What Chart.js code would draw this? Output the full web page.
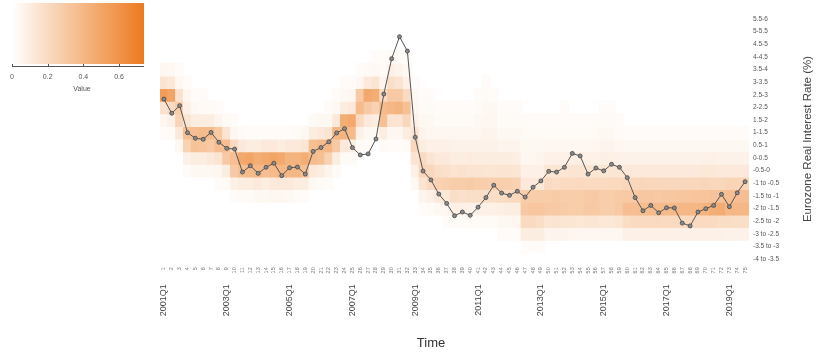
<!DOCTYPE html>
<html>
<head>
<meta charset="utf-8">
<script src="https://cdn.jsdelivr.net/npm/chart.js@4/dist/chart.umd.min.js"></script>
<style>
  html, body { margin: 0; padding: 0; background: #fff; }
  #wrap { width: 817px; height: 356px; position: relative; }
</style>
</head>
<body>
<div id="wrap"><canvas id="chart" width="817" height="356"></canvas></div>
<script>
// Quarter index shown under each column
const quarterNumbers = ["1","2","3","4","5","6","7","8","9","10","11","12","13","14","15","16","17","18","19","20",
  "21","22","23","24","25","26","27","28","29","30","31","32","33","34","35","36","37","38","39","40",
  "41","42","43","44","45","46","47","48","49","50","51","52","53","54","55","56","57","58","59","60",
  "61","62","63","64","65","66","67","68","69","70","71","72","73","74","75"];

// Period labels, one every eight quarters starting at quarter 1
const periodLabels = ["2001Q1","2003Q1","2005Q1","2007Q1","2009Q1","2011Q1","2013Q1","2015Q1","2017Q1","2019Q1"];
const periodStep = 8;

// Interest-rate bins, top to bottom, and their lower bounds (%)
const rateBins = ["5.5-6","5-5.5","4.5-5","4-4.5","3.5-4","3-3.5","2.5-3","2-2.5","1.5-2","1-1.5",
  "0.5-1","0-0.5","-0.5-0","-1 to -0.5","-1.5 to -1","-2 to -1.5","-2.5 to -2","-3 to -2.5","-3.5 to -3","-4 to -3.5"];
const binLower = [5.5,5,4.5,4,3.5,3,2.5,2,1.5,1,0.5,0,-0.5,-1,-1.5,-2,-2.5,-3,-3.5,-4];
const binWidth = 0.5;

// Realised Eurozone real interest rate (%) per quarter
const realRate = [2.58,2.02,2.32,1.25,1.03,0.99,1.26,0.87,0.63,0.60,
  -0.31,-0.06,-0.36,-0.12,0.04,-0.45,-0.14,-0.11,-0.39,0.51,
  0.66,0.89,1.24,1.41,0.66,0.37,0.41,1.00,2.78,4.18,
  5.05,4.48,1.07,-0.27,-0.62,-1.18,-1.55,-2.04,-1.89,-2.02,
  -1.70,-1.32,-0.83,-1.14,-1.23,-1.07,-1.30,-0.91,-0.66,-0.28,
  -0.31,-0.12,0.43,0.33,-0.39,-0.15,-0.26,0.00,-0.12,-0.53,
  -1.32,-1.84,-1.63,-1.92,-1.72,-1.73,-2.33,-2.44,-1.89,-1.76,
  -1.63,-1.19,-1.68,-1.13,-0.69];

// Share of outcomes in each bin (same order as rateBins), one row per quarter
const shareByQuarter = [
  [0,0,0,0,.05,.15,.55,.16,.05,.02,0,0,0,0,0,0,0,0,0,0],
  [0,0,0,0,.04,.13,.50,.20,.08,.03,0,0,0,0,0,0,0,0,0,0],
  [0,0,0,0,.02,.05,.16,.28,.24,.12,.04,0,0,0,0,0,0,0,0,0],
  [0,0,0,0,0,.02,.05,.08,.15,.35,.25,.08,.02,0,0,0,0,0,0,0],
  [0,0,0,0,0,0,.02,.04,.10,.36,.34,.10,.04,0,0,0,0,0,0,0],
  [0,0,0,0,0,0,.02,.03,.10,.38,.33,.10,.04,0,0,0,0,0,0,0],
  [0,0,0,0,0,0,0,.03,.10,.38,.30,.12,.04,0,0,0,0,0,0,0],
  [0,0,0,0,0,0,0,.02,.06,.30,.36,.15,.05,.02,0,0,0,0,0,0],
  [0,0,0,0,0,0,0,0,.03,.15,.36,.30,.10,.03,0,0,0,0,0,0],
  [0,0,0,0,0,0,0,0,.02,.05,.20,.36,.30,.08,.02,0,0,0,0,0],
  [0,0,0,0,0,0,0,0,0,.03,.12,.48,.35,.10,.03,0,0,0,0,0],
  [0,0,0,0,0,0,0,0,0,.02,.10,.50,.38,.10,.03,0,0,0,0,0],
  [0,0,0,0,0,0,0,0,0,.02,.10,.45,.40,.12,.04,0,0,0,0,0],
  [0,0,0,0,0,0,0,0,0,.02,.12,.48,.36,.10,.04,0,0,0,0,0],
  [0,0,0,0,0,0,0,0,0,.02,.12,.50,.38,.12,.05,0,0,0,0,0],
  [0,0,0,0,0,0,0,0,0,.02,.10,.48,.40,.12,.05,0,0,0,0,0],
  [0,0,0,0,0,0,0,0,0,.02,.12,.42,.40,.12,.04,0,0,0,0,0],
  [0,0,0,0,0,0,0,0,0,.03,.12,.42,.40,.10,.03,0,0,0,0,0],
  [0,0,0,0,0,0,0,0,0,.04,.14,.45,.35,.10,.02,0,0,0,0,0],
  [0,0,0,0,0,0,0,0,.03,.10,.35,.38,.12,.04,0,0,0,0,0,0],
  [0,0,0,0,0,0,0,0,.04,.12,.38,.35,.10,.03,0,0,0,0,0,0],
  [0,0,0,0,0,0,0,.02,.04,.15,.40,.25,.06,.02,0,0,0,0,0,0],
  [0,0,0,0,0,0,.02,.04,.12,.40,.30,.10,.03,0,0,0,0,0,0,0],
  [0,0,0,0,0,.02,.04,.10,.45,.42,.12,.03,0,0,0,0,0,0,0,0],
  [0,0,0,0,0,.02,.05,.12,.48,.38,.10,.03,0,0,0,0,0,0,0,0],
  [0,0,0,0,.02,.05,.30,.38,.20,.08,.03,0,0,0,0,0,0,0,0,0],
  [0,0,0,0,.03,.12,.48,.30,.12,.04,.02,0,0,0,0,0,0,0,0,0],
  [0,0,0,.02,.04,.15,.45,.25,.10,.04,0,0,0,0,0,0,0,0,0,0],
  [0,0,0,.02,.03,.06,.20,.38,.35,.10,.03,0,0,0,0,0,0,0,0,0],
  [0,0,0,.03,.08,.18,.30,.40,.15,.05,.02,0,0,0,0,0,0,0,0,0],
  [0,0,0,.03,.06,.15,.30,.42,.15,.05,.02,0,0,0,0,0,0,0,0,0],
  [0,0,0,.02,.04,.08,.20,.35,.22,.10,.03,0,0,0,0,0,0,0,0,0],
  [0,0,0,0,0,.02,.04,.05,.08,.15,.22,.15,.08,.04,0,0,0,0,0,0],
  [0,0,0,0,0,0,.02,.03,.04,.06,.10,.20,.22,.15,.06,.02,0,0,0,0],
  [0,0,0,0,0,0,.02,.03,.04,.05,.08,.15,.22,.20,.08,.03,0,0,0,0],
  [0,0,0,0,0,0,0,.02,.03,.05,.08,.12,.18,.25,.12,.04,0,0,0,0],
  [0,0,0,0,0,0,0,.02,.03,.05,.08,.12,.17,.26,.13,.05,.02,0,0,0],
  [0,0,0,0,0,0,0,.02,.03,.05,.07,.10,.15,.28,.18,.08,.03,0,0,0],
  [0,0,0,0,0,0,0,.02,.03,.05,.07,.10,.16,.28,.17,.08,.03,0,0,0],
  [0,0,0,0,0,0,0,.02,.03,.05,.07,.11,.15,.29,.18,.07,.03,0,0,0],
  [0,0,0,0,0,0,.02,.03,.04,.05,.07,.10,.15,.28,.18,.08,.03,0,0,0],
  [0,0,0,0,0,.02,.03,.04,.05,.06,.07,.10,.14,.27,.18,.08,.03,0,0,0],
  [0,0,0,0,0,0,.02,.04,.05,.06,.07,.10,.14,.26,.18,.08,.03,0,0,0],
  [0,0,0,0,0,0,0,.02,.03,.04,.06,.10,.15,.27,.19,.09,.04,.02,0,0],
  [0,0,0,0,0,0,0,.02,.03,.04,.06,.10,.15,.26,.20,.10,.04,.02,0,0],
  [0,0,0,0,0,0,0,.02,.03,.04,.06,.09,.14,.25,.21,.10,.05,.02,0,0],
  [0,0,0,0,0,0,0,0,.02,.03,.04,.05,.08,.12,.28,.30,.20,.10,.02,0],
  [0,0,0,0,0,0,0,0,.02,.03,.04,.05,.08,.12,.28,.32,.20,.10,.02,0],
  [0,0,0,0,0,0,0,0,.02,.03,.04,.06,.08,.13,.28,.32,.18,.10,.02,0],
  [0,0,0,0,0,0,0,0,.02,.03,.05,.08,.14,.20,.28,.30,.14,.06,0,0],
  [0,0,0,0,0,0,0,0,.02,.03,.05,.08,.14,.19,.29,.30,.15,.06,0,0],
  [0,0,0,0,0,0,0,.02,.02,.03,.05,.08,.14,.20,.28,.29,.14,.06,0,0],
  [0,0,0,0,0,0,0,0,.02,.03,.05,.09,.15,.20,.28,.28,.14,.05,0,0],
  [0,0,0,0,0,0,0,0,.02,.03,.05,.09,.15,.21,.28,.28,.13,.05,0,0],
  [0,0,0,0,0,0,0,0,.02,.03,.05,.08,.14,.20,.29,.30,.14,.05,0,0],
  [0,0,0,0,0,0,0,0,.02,.03,.05,.08,.14,.20,.30,.30,.14,.05,0,0],
  [0,0,0,0,0,0,0,.02,.03,.04,.06,.09,.14,.20,.28,.28,.13,.05,0,0],
  [0,0,0,0,0,0,0,.02,.03,.04,.06,.09,.14,.21,.28,.28,.13,.05,0,0],
  [0,0,0,0,0,0,0,0,.02,.03,.05,.08,.14,.21,.29,.30,.14,.05,0,0],
  [0,0,0,0,0,0,0,0,0,.02,.04,.07,.12,.22,.30,.36,.19,.08,0,0],
  [0,0,0,0,0,0,0,0,0,.02,.04,.07,.12,.22,.30,.36,.20,.08,0,0],
  [0,0,0,0,0,0,0,0,0,.02,.04,.07,.12,.23,.31,.37,.20,.08,0,0],
  [0,0,0,0,0,0,0,0,0,.02,.04,.07,.12,.22,.31,.38,.20,.08,0,0],
  [0,0,0,0,0,0,0,0,0,.02,.04,.07,.12,.22,.30,.38,.21,.08,0,0],
  [0,0,0,0,0,0,0,0,0,.02,.04,.07,.12,.22,.31,.38,.20,.08,0,0],
  [0,0,0,0,0,0,0,0,0,.02,.04,.07,.12,.22,.31,.39,.20,.08,0,0],
  [0,0,0,0,0,0,0,0,0,.02,.04,.07,.12,.22,.32,.40,.20,.08,0,0],
  [0,0,0,0,0,0,0,0,0,.02,.04,.07,.12,.22,.32,.40,.21,.08,0,0],
  [0,0,0,0,0,0,0,0,0,.02,.04,.07,.12,.22,.33,.40,.20,.08,0,0],
  [0,0,0,0,0,0,0,0,0,.02,.04,.08,.13,.23,.33,.42,.20,.08,0,0],
  [0,0,0,0,0,0,0,0,0,.02,.04,.08,.13,.22,.34,.45,.20,.08,0,0],
  [0,0,0,0,0,0,0,0,0,.02,.04,.07,.12,.22,.34,.46,.19,.08,0,0],
  [0,0,0,0,0,0,0,0,0,.02,.04,.07,.12,.24,.36,.40,.19,.07,0,0],
  [0,0,0,0,0,0,0,0,0,.02,.04,.07,.12,.24,.36,.40,.18,.07,0,0],
  [0,0,0,0,0,0,0,0,0,.02,.04,.07,.12,.24,.36,.40,.18,.07,0,0]
];

// Colour key ticks
const keyTicks = [0, 0.2, 0.4, 0.6];
const keyMax = 0.74;
const highColour = [236, 122, 30];

function shadeFor(v) {
  const t = Math.max(0, Math.min(1, v / keyMax));
  const c = highColour.map(h => Math.round(255 + (h - 255) * t));
  return `rgb(${c[0]},${c[1]},${c[2]})`;
}

const FONT = "'Liberation Sans', Arial, sans-serif";

// Year labels sit under every eighth quarter
const periodRow = quarterNumbers.map((q, i) => i % periodStep === 0 ? (periodLabels[i / periodStep] || '') : '');

const binDatasets = rateBins.map((bin, k) => ({
  type: 'bar',
  label: bin,
  order: 2,
  grouped: false,
  data: shareByQuarter.map(col => col[k] > 0 ? [binLower[k], binLower[k] + binWidth] : null),
  backgroundColor: ctx => shadeFor(shareByQuarter[ctx.dataIndex][k]),
  borderWidth: 0,
  barPercentage: 1,
  categoryPercentage: 1,
  inflateAmount: 0.6
}));

const rateLine = {
  type: 'line',
  label: 'Eurozone Real Interest Rate',
  order: 0,
  data: realRate,
  borderColor: '#555',
  borderWidth: 1,
  tension: 0,
  pointRadius: 2,
  pointBackgroundColor: '#8a8a8a',
  pointBorderColor: '#444',
  pointBorderWidth: 0.8
};

const decorations = {
  id: 'decorations',
  afterDraw(chart) {
    const ctx = chart.ctx;
    ctx.save();
    // colour key
    const kx0 = 12, kx1 = 144, ky0 = 3, ky1 = 64;
    const grad = ctx.createLinearGradient(kx0, 0, kx1, 0);
    for (let s = 0; s <= 10; s++) grad.addColorStop(s / 10, shadeFor(keyMax * s / 10));
    ctx.fillStyle = grad;
    ctx.fillRect(kx0 - 1, ky0, kx1 - kx0 + 1, ky1 - ky0);
    ctx.strokeStyle = '#555';
    ctx.lineWidth = 1;
    ctx.beginPath();
    ctx.moveTo(kx0, 66.5); ctx.lineTo(kx1, 66.5);
    keyTicks.forEach(v => {
      const x = Math.round(kx0 + (kx1 - kx0) * v / keyMax) + 0.5;
      ctx.moveTo(x, 64); ctx.lineTo(x, 67);
    });
    ctx.stroke();
    ctx.fillStyle = '#555';
    ctx.font = `7px ${FONT}`;
    ctx.textAlign = 'center';
    ctx.textBaseline = 'middle';
    keyTicks.forEach(v => {
      const x = kx0 + (kx1 - kx0) * v / keyMax;
      ctx.fillText(String(v), x, 77);
    });
    ctx.fillText('Value', 82, 89);
    // axis titles
    ctx.fillStyle = '#333';
    ctx.font = `13px ${FONT}`;
    ctx.fillText('Time', 431, 343);
    ctx.translate(808, 139);
    ctx.rotate(-Math.PI / 2);
    ctx.fillStyle = '#444';
    ctx.font = `11.5px ${FONT}`;
    ctx.fillText('Eurozone Real Interest Rate (%)', 0, 0);
    ctx.restore();
  }
};

new Chart(document.getElementById('chart'), {
  type: 'bar',
  data: { labels: quarterNumbers, datasets: [...binDatasets, rateLine] },
  options: {
    responsive: false,
    animation: false,
    events: [],
    layout: { padding: { left: 160, top: 12.7, right: 0, bottom: 0 } },
    plugins: { legend: { display: false }, tooltip: { enabled: false } },
    scales: {
      x: {
        type: 'category',
        position: 'bottom',
        offset: true,
        weight: 0,
        grid: { display: false, drawTicks: false },
        border: { display: false },
        ticks: { autoSkip: false, minRotation: 90, maxRotation: 90, padding: 2,
                 color: '#777', font: { size: 5.5, family: FONT } },
        afterFit: s => { s.height = 16; }
      },
      x2: {
        type: 'category',
        position: 'bottom',
        labels: periodRow,
        offset: true,
        weight: 1,
        grid: { display: false, drawTicks: false },
        border: { display: false },
        ticks: { autoSkip: false, minRotation: 90, maxRotation: 90, padding: 3,
                 color: '#444', font: { size: 9, family: FONT } },
        afterFit: s => { s.height = 74.7; }
      },
      y: {
        type: 'linear',
        position: 'right',
        min: -4,
        max: 6,
        grid: { display: false, drawTicks: false },
        border: { display: false },
        afterBuildTicks: s => { s.ticks = binLower.map(v => ({ value: v + binWidth / 2 })); },
        ticks: {
          autoSkip: false,
          padding: 4,
          crossAlign: 'near',
          color: '#555',
          font: { size: 6.5, family: FONT },
          callback: v => {
            const k = binLower.findIndex(b => Math.abs(b + binWidth / 2 - v) < 1e-6);
            return k >= 0 ? rateBins[k] : '';
          }
        },
        afterFit: s => { s.width = 68; }
      }
    }
  },
  plugins: [decorations]
});
</script>
</body>
</html>
